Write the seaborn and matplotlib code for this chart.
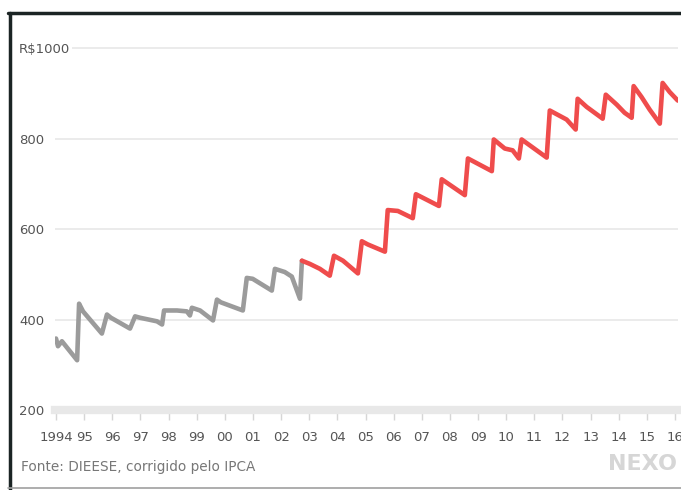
import pandas as pd
import matplotlib.pyplot as plt
from matplotlib.lines import Line2D
import seaborn as sns

anos_cinza = [1994.00, 1994.07, 1994.21, 1994.75, 1994.82, 1994.96, 1995.63,
              1995.81, 1995.95, 1996.63, 1996.81, 1996.98, 1997.59, 1997.77,
              1997.84, 1998.30, 1998.65, 1998.76, 1998.83, 1999.12, 1999.58,
              1999.72, 1999.86, 2000.64, 2000.78, 2000.99, 2001.67, 2001.78,
              2002.13, 2002.38, 2002.67, 2002.74]
valores_cinza = [358, 341, 352, 310, 435, 418, 369, 411, 404, 380, 407, 404,
                 396, 389, 420, 420, 418, 409, 426, 420, 398, 444, 438, 420,
                 492, 490, 464, 512, 505, 495, 446, 530]

anos_vermelho = [2002.74, 2003.02, 2003.38, 2003.73, 2003.88, 2004.20, 2004.73,
                 2004.87, 2005.08, 2005.69, 2005.79, 2006.15, 2006.68, 2006.79,
                 2007.61, 2007.71, 2008.53, 2008.64, 2009.49, 2009.56, 2009.95,
                 2010.23, 2010.45, 2010.55, 2011.44, 2011.55, 2012.15, 2012.47,
                 2012.54, 2012.86, 2013.43, 2013.54, 2013.93, 2014.21, 2014.46,
                 2014.53, 2014.81, 2015.10, 2015.46, 2015.56, 2015.81, 2016.10]
valores_vermelho = [530, 523, 512, 497, 541, 530, 502, 573, 566, 550, 642, 640,
                    624, 677, 651, 710, 675, 756, 728, 798, 778, 774, 756, 798,
                    758, 862, 842, 820, 888, 870, 844, 897, 875, 857, 846, 916,
                    892, 864, 833, 923, 903, 884]

anos_ticks = list(range(1994, 2017))
rotulos_x = ["1994"] + ["%02d" % (a % 100) for a in anos_ticks[1:]]
valores_y = [200, 400, 600, 800, 1000]
rotulos_y = ["200", "400", "600", "800", "R$1000"]

sns.set_theme(style="white")
plt.rcParams["font.family"] = ["DejaVu Sans"]

fig = plt.figure(figsize=(6.81, 4.90), dpi=100)
ax = fig.add_axes([55 / 681, 80 / 490, 623 / 681, 380 / 490])

df_cinza = pd.DataFrame({"ano": anos_cinza, "valor": valores_cinza})
df_verm = pd.DataFrame({"ano": anos_vermelho, "valor": valores_vermelho})

sns.lineplot(data=df_cinza, x="ano", y="valor", ax=ax, color="#9b9b9b",
             linewidth=3.3, sort=False, estimator=None,
             solid_joinstyle="round", solid_capstyle="round", zorder=3)
sns.lineplot(data=df_verm, x="ano", y="valor", ax=ax, color="#ef4c4c",
             linewidth=3.3, sort=False, estimator=None,
             solid_joinstyle="round", solid_capstyle="round", zorder=3)

ax.set_xlim(1993.964, 2016.107)
ax.set_ylim(200, 1040)
ax.set_xlabel("")
ax.set_ylabel("")

ax.set_xticks(anos_ticks)
ax.set_xticklabels(rotulos_x)
ax.set_yticks(valores_y)
ax.set_yticklabels(rotulos_y, ha="left", color="#555555", fontsize=9.5,
                   bbox=dict(facecolor="white", edgecolor="none", pad=1.5))

ax.tick_params(axis="x", which="both", bottom=True, length=7, width=1,
               color="#d6d6d6", pad=8, labelsize=9.5, labelcolor="#555555")
ax.tick_params(axis="y", length=0, pad=26)

ax.grid(axis="y", color="#e6e6e6", linewidth=1.1)
ax.grid(axis="x", visible=False)

for lado in ["top", "right", "left"]:
    ax.spines[lado].set_visible(False)
ax.spines["bottom"].set_color("#e8e8e8")
ax.spines["bottom"].set_linewidth(6)

# moldura da captura
fig.add_artist(Line2D([8 / 681, 1], [477 / 490, 477 / 490], color="#1b2424",
                      linewidth=2.5, transform=fig.transFigure))
fig.add_artist(Line2D([9.5 / 681, 9.5 / 681], [0, 477 / 490], color="#1b2424",
                      linewidth=2.5, transform=fig.transFigure))
fig.add_artist(Line2D([8 / 681, 1], [2 / 490, 2 / 490], color="#a0a0a0",
                      linewidth=1.2, transform=fig.transFigure))

fig.text(21 / 681, 23 / 490, "Fonte: DIEESE, corrigido pelo IPCA",
         fontsize=9.8, color="#777777", va="center", ha="left")
fig.text(677 / 681, 26 / 490, "NEXO", fontsize=16, fontweight="bold",
         color="#d6d6d6", va="center", ha="right")

fig.savefig("out.png", dpi=100)
